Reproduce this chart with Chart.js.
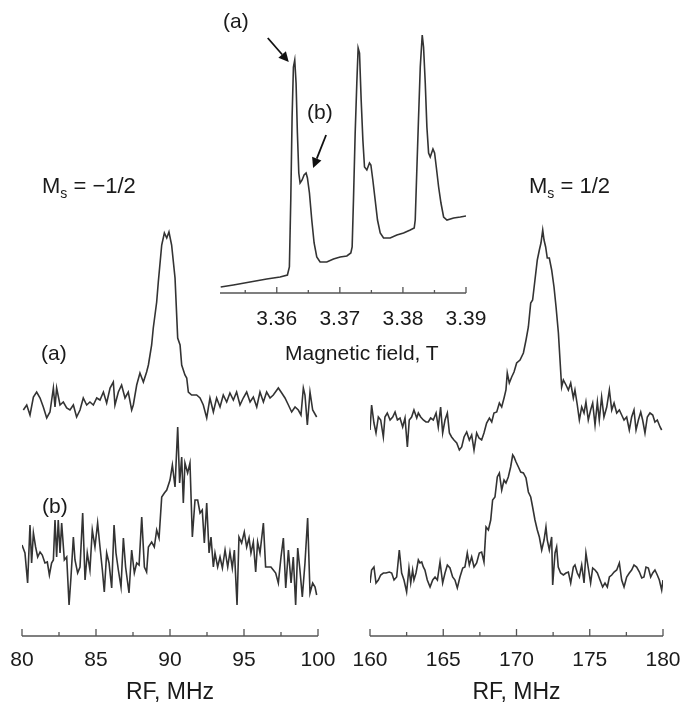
<!DOCTYPE html>
<html>
<head>
<meta charset="utf-8">
<script src="https://cdn.jsdelivr.net/npm/chart.js@4.4.1/dist/chart.umd.min.js"></script>
<style>
  html, body { margin: 0; padding: 0; background: #fff; }
  #page { position: relative; width: 684px; height: 711px; overflow: hidden; }
  canvas { position: absolute; }
  .t { position: absolute; font: 21px "Liberation Sans", Arial, sans-serif; line-height: 25px; color: #1a1a1a; white-space: nowrap; }
  .ms { font-size: 22px; }
  .t sub { font-size: 14px; vertical-align: -5px; line-height: 0; }
</style>
</head>
<body>
<div id="page">
  <canvas id="leftChart" style="left:-10px;top:200px;width:360px;height:511px" width="360" height="511"></canvas>
  <canvas id="rightChart" style="left:340px;top:200px;width:354px;height:511px" width="354" height="511"></canvas>
  <canvas id="eprChart" style="left:190px;top:0;width:312px;height:370px" width="312" height="370"></canvas>

  <div class="t ms" style="left:42px;top:173px">M<sub>s</sub> = −1/2</div>
  <div class="t ms" style="left:529px;top:173px">M<sub>s</sub> = 1/2</div>
  <div class="t" style="left:41px;top:340px">(a)</div>
  <div class="t" style="left:42px;top:493px">(b)</div>
  <div class="t" style="left:223px;top:8px">(a)</div>
  <div class="t" style="left:307px;top:99px">(b)</div>
  <div class="t" style="left:285px;top:340px">Magnetic field, T</div>
</div>

<script>
// EPR spectrum (inset)
const fieldT = [3.35111,3.35312,3.35576,3.35841,3.36052,3.36169,3.36200,3.36222,3.36243,3.36264,
  3.36285,3.36306,3.36327,3.36349,3.36370,3.36402,3.36433,3.36465,3.36486,3.36518,
  3.36555,3.36592,3.36634,3.36687,3.36793,3.36899,3.37005,3.37111,3.37174,3.37195,
  3.37216,3.37243,3.37269,3.37290,3.37312,3.37338,3.37365,3.37391,3.37428,3.37470,
  3.37492,3.37523,3.37560,3.37597,3.37640,3.37693,3.37798,3.37904,3.38010,3.38116,
  3.38179,3.38195,3.38222,3.38248,3.38275,3.38306,3.38327,3.38354,3.38380,3.38407,
  3.38433,3.38476,3.38502,3.38529,3.38566,3.38603,3.38645,3.38698,3.38804,3.38910,3.39000];
const eprSig = [6,8,11,14,16,18,26,93,176,226,
  233,210,160,120,110,113,118,120,115,100,
  73,50,36,31,31,34,36,37,40,46,
  93,160,210,245,240,193,153,126,123,130,
  128,113,93,73,60,55,55,58,60,63,
  65,73,126,176,226,258,246,210,166,140,
  136,144,140,126,106,90,76,73,75,76,77];
const fieldTicks = [3.36, 3.37, 3.38, 3.39];
const fieldMinor = [3.355, 3.365, 3.375, 3.385];

// ENDOR, Ms = -1/2
const leftFreqA = [80.09,80.32,80.54,80.77,80.99,81.22,81.44,81.67,81.89,82.12,
  82.23,82.34,82.57,82.79,83.02,83.24,83.47,83.69,83.92,84.14,
  84.37,84.59,84.82,85.05,85.27,85.50,85.72,85.95,86.17,86.28,
  86.51,86.73,86.96,87.18,87.41,87.52,87.75,87.97,88.20,88.42,
  88.54,88.76,88.87,89.10,89.21,89.44,89.62,89.78,89.93,90.11,
  90.34,90.52,90.68,90.79,91.01,91.13,91.24,91.46,91.80,92.03,
  92.25,92.48,92.70,92.93,93.15,93.38,93.60,93.83,94.05,94.28,
  94.50,94.73,94.95,95.18,95.41,95.63,95.86,96.08,96.31,96.53,
  96.76,96.98,97.32,97.55,97.77,98.00,98.22,98.45,98.67,98.85,
  99.01,99.12,99.28,99.46,99.64,99.91];
const leftSigA = [0,5,-5,13,18,12,3,-8,-2,22,
  3,22,5,8,2,0,5,-7,0,12,
  5,8,5,12,10,18,7,22,28,5,
  18,25,12,18,0,5,25,37,28,38,
  45,65,82,108,128,165,177,172,178,165,
  132,72,65,45,35,32,18,15,15,12,
  5,-8,12,-2,12,3,15,8,17,10,
  18,5,12,18,8,13,3,18,8,18,
  12,15,22,17,12,5,-2,3,0,-5,
  22,15,-15,18,0,-7];
const leftFreqB = [80.00,80.20,80.38,80.54,80.65,80.77,80.92,81.06,81.22,81.37,
  81.55,81.71,81.85,82.00,82.12,82.23,82.34,82.45,82.57,82.68,
  82.86,83.02,83.18,83.31,83.47,83.58,83.76,83.92,84.10,84.26,
  84.41,84.59,84.75,84.93,85.11,85.27,85.43,85.56,85.72,85.88,
  86.06,86.22,86.35,86.51,86.69,86.85,87.00,87.23,87.41,87.59,
  87.75,87.91,88.09,88.27,88.42,88.54,88.76,88.94,89.10,89.26,
  89.44,89.62,89.78,90.00,90.16,90.34,90.52,90.65,90.79,90.90,
  91.01,91.19,91.35,91.51,91.69,91.87,92.03,92.18,92.32,92.48,
  92.64,92.77,92.93,93.04,93.22,93.38,93.54,93.72,93.90,94.05,
  94.21,94.35,94.53,94.66,94.84,95.02,95.18,95.34,95.47,95.63,
  95.79,95.92,96.08,96.31,96.46,96.64,96.82,96.98,97.14,97.32,
  97.50,97.66,97.82,98.00,98.18,98.33,98.49,98.63,98.78,98.94,
  99.12,99.30,99.46,99.64,99.80,99.91];
const leftSigB = [20,12,-18,40,2,32,18,8,13,10,
  2,3,-10,2,5,45,8,45,12,42,
  5,8,-40,-12,28,5,-8,-2,52,-15,
  12,-5,35,18,42,18,-5,-27,12,2,
  -23,40,12,-5,-22,27,-2,-28,15,-8,
  2,0,48,-2,-7,18,23,18,35,27,
  68,72,75,85,100,78,138,82,108,62,
  102,92,102,28,65,65,52,55,22,62,
  12,28,-2,12,-2,8,-3,15,-2,13,
  -3,15,-40,28,22,33,18,27,12,23,
  -7,23,12,42,-2,-2,-2,-5,-8,-18,
  8,27,-23,15,-18,8,-40,17,-5,-32,
  2,47,-28,-18,-22,-30];
const leftTicks = [80, 85, 90, 95, 100];
const leftMinor = [82.5, 87.5, 92.5, 97.5];

// ENDOR, Ms = 1/2
const rightFreqA = [160.00,160.11,160.27,160.41,160.57,160.73,160.91,161.02,161.18,161.37,
  161.55,161.71,161.87,162.05,162.23,162.39,162.55,162.68,162.84,163.00,
  163.19,163.30,163.46,163.64,163.82,163.98,164.14,164.32,164.51,164.66,
  164.82,164.96,165.12,165.28,165.42,165.57,165.73,165.92,166.10,166.26,
  166.42,166.60,166.78,166.94,167.10,167.28,167.44,167.62,167.78,167.96,
  168.15,168.31,168.46,168.65,168.83,168.99,169.15,169.28,169.37,169.51,
  169.67,169.83,170.01,170.24,170.47,170.65,170.81,170.97,171.10,171.26,
  171.42,171.56,171.67,171.79,171.88,171.99,172.10,172.24,172.40,172.56,
  172.70,172.86,172.97,173.08,173.20,173.38,173.54,173.70,173.88,173.99,
  174.15,174.29,174.45,174.61,174.74,174.90,175.06,175.20,175.36,175.52,
  175.65,175.81,175.97,176.16,176.34,176.50,176.66,176.84,177.02,177.18,
  177.34,177.52,177.70,177.86,178.02,178.16,178.32,178.48,178.61,178.77,
  178.93,179.11,179.30,179.45,179.61,179.80,179.91];
const rightSigA = [0,25,7,-3,13,10,-7,13,17,10,
  13,18,10,12,3,12,-17,10,13,20,
  12,17,13,10,8,8,12,10,17,3,
  23,-3,10,17,-3,-7,-10,-13,-20,-17,
  -7,-2,-10,-5,-20,-3,-8,-10,-3,7,
  12,8,17,18,27,23,32,40,57,47,
  53,58,67,70,77,90,103,127,130,150,
  170,180,187,200,190,183,172,172,160,143,
  123,97,70,43,50,45,40,47,32,40,
  25,10,23,17,28,10,20,27,5,28,
  10,33,13,23,40,20,27,17,20,15,
  10,13,0,13,20,0,10,18,10,-3,
  13,17,15,8,10,3,0];
const rightFreqB = [160.00,160.11,160.27,160.41,160.57,160.73,160.91,161.09,161.32,161.48,
  161.64,161.82,162.00,162.16,162.32,162.50,162.66,162.78,162.91,163.00,
  163.14,163.30,163.41,163.53,163.64,163.75,163.91,164.10,164.28,164.44,
  164.60,164.78,164.96,165.12,165.28,165.46,165.64,165.80,165.96,166.14,
  166.33,166.48,166.64,166.78,166.94,167.10,167.28,167.46,167.62,167.78,
  167.92,168.08,168.24,168.37,168.53,168.69,168.83,168.99,169.15,169.28,
  169.44,169.60,169.74,169.83,169.97,170.13,170.29,170.47,170.65,170.81,
  170.97,171.10,171.26,171.42,171.56,171.72,171.88,172.01,172.10,172.24,
  172.40,172.47,172.63,172.74,172.85,173.01,173.20,173.38,173.54,173.70,
  173.88,173.99,174.15,174.29,174.45,174.61,174.74,174.90,175.06,175.20,
  175.36,175.52,175.70,175.88,176.04,176.20,176.34,176.50,176.66,176.84,
  177.02,177.18,177.34,177.52,177.70,177.86,178.02,178.20,178.39,178.55,
  178.70,178.84,179.00,179.16,179.30,179.45,179.61,179.75,179.91,180.00];
const rightSigB = [-3,10,13,-3,0,5,7,7,8,7,
  0,3,30,7,0,-12,12,-3,10,0,
  7,20,17,18,13,10,0,-7,0,3,
  0,18,-3,7,15,12,3,0,-8,3,
  12,13,27,15,23,13,17,27,28,18,
  53,50,60,80,83,103,107,90,100,97,
  103,113,125,123,118,113,108,107,102,88,
  83,73,60,50,43,30,40,53,40,30,
  43,-5,27,33,13,7,5,7,8,-3,
  13,15,7,3,15,-3,27,12,-3,12,
  10,7,0,-7,-3,-7,3,5,8,10,
  17,0,-7,3,7,10,15,13,8,2,
  3,13,12,3,7,10,5,0,-10,0];
const rightTicks = [160, 165, 170, 175, 180];
const rightMinor = [162.5, 167.5, 172.5, 177.5];

const TEXT = '#1a1a1a';
const LINE = '#333';
const AXIS = '#555';
Chart.defaults.font.family = '"Liberation Sans", Arial, sans-serif';
Chart.defaults.font.size = 21;
Chart.defaults.color = TEXT;

function pts(xs, ys, offset) {
    return xs.map((x, i) => ({ x: x, y: ys[i] + offset }));
}

function trace(data) {
    return { data, borderColor: LINE, borderWidth: 1.6, pointRadius: 0, tension: 0, fill: false };
}

// axis line with ticks pointing up into the plot
const inwardAxis = {
    id: 'inwardAxis',
    afterDraw(chart, args, opts) {
        const sx = chart.scales.x;
        const y0 = chart.chartArea.bottom;
        const ctx = chart.ctx;
        ctx.save();
        ctx.strokeStyle = AXIS;
        ctx.lineWidth = 1.3;
        ctx.beginPath();
        ctx.moveTo(sx.left, y0);
        ctx.lineTo(sx.right, y0);
        opts.major.forEach(v => {
            const px = sx.getPixelForValue(v);
            ctx.moveTo(px, y0);
            ctx.lineTo(px, y0 - opts.majorLen);
        });
        opts.minor.forEach(v => {
            const px = sx.getPixelForValue(v);
            ctx.moveTo(px, y0);
            ctx.lineTo(px, y0 - opts.minorLen);
        });
        ctx.stroke();
        ctx.restore();
    }
};

// arrows pointing at peaks of the EPR line
const peakArrows = {
    id: 'peakArrows',
    afterDatasetsDraw(chart, args, opts) {
        const meta = chart.getDatasetMeta(0);
        const ctx = chart.ctx;
        ctx.save();
        ctx.strokeStyle = '#111';
        ctx.fillStyle = '#111';
        ctx.lineWidth = 1.8;
        opts.arrows.forEach(a => {
            const p = meta.data[a.index];
            const x1 = p.x + a.hx, y1 = p.y + a.hy;
            const x0 = p.x + a.tx, y0 = p.y + a.ty;
            const ang = Math.atan2(y1 - y0, x1 - x0);
            const len = 10, w = 5;
            const bx = x1 - len * Math.cos(ang), by = y1 - len * Math.sin(ang);
            ctx.beginPath();
            ctx.moveTo(x0, y0);
            ctx.lineTo(bx, by);
            ctx.stroke();
            ctx.beginPath();
            ctx.moveTo(x1, y1);
            ctx.lineTo(bx + w * Math.sin(ang), by - w * Math.cos(ang));
            ctx.lineTo(bx - w * Math.sin(ang), by + w * Math.cos(ang));
            ctx.closePath();
            ctx.fill();
        });
        ctx.restore();
    }
};

function xAxis(min, max, ticks, title, labelPad, fmt) {
    const axis = {
        type: 'linear', min, max,
        afterBuildTicks: a => { a.ticks = ticks.map(v => ({ value: v })); },
        grid: { display: false, drawTicks: false },
        border: { display: false },
        ticks: { padding: labelPad, autoSkip: false, maxRotation: 0, callback: fmt },
        title: { display: false }
    };
    if (title) {
        axis.title = { display: true, text: title, font: { size: 23 }, padding: { top: -6, bottom: 0 } };
    }
    return axis;
}

function endorChart(id, freqA, sigA, offA, freqB, sigB, offB, ticks, minor, pad) {
    new Chart(document.getElementById(id), {
        type: 'line',
        data: { datasets: [trace(pts(freqA, sigA, offA)), trace(pts(freqB, sigB, offB))] },
        options: {
            responsive: false, animation: false,
            layout: { padding: pad },
            plugins: { legend: { display: false }, tooltip: { enabled: false },
                inwardAxis: { major: ticks, minor: minor, majorLen: 7, minorLen: 4 } },
            scales: {
                x: xAxis(ticks[0], ticks[ticks.length - 1], ticks, 'RF, MHz', 12, v => String(v)),
                y: { display: false, min: 0, max: 416 }
            }
        },
        plugins: [inwardAxis]
    });
}

endorChart('leftChart', leftFreqA, leftSigA, 226, leftFreqB, leftSigB, 71,
    leftTicks, leftMinor, { left: 32, right: 32, top: 20, bottom: 4.2 });
endorChart('rightChart', rightFreqA, rightSigA, 206, rightFreqB, rightSigB, 56,
    rightTicks, rightMinor, { left: 30, right: 31, top: 20, bottom: 4.2 });

new Chart(document.getElementById('eprChart'), {
    type: 'line',
    data: { datasets: [trace(pts(fieldT, eprSig, 0))] },
    options: {
        responsive: false, animation: false,
        layout: { padding: { left: 30, right: 36, top: 20, bottom: 23.8 } },
        plugins: { legend: { display: false }, tooltip: { enabled: false },
            inwardAxis: { major: fieldTicks, minor: fieldMinor, majorLen: 6, minorLen: 3 },
            peakArrows: { arrows: [
                { index: 10, hx: -6, hy: 2, tx: -27, ty: -22 },
                { index: 17, hx: 7, hy: -5, tx: 20, ty: -38 }
            ] } },
        scales: {
            x: xAxis(3.351, 3.39, fieldTicks, null, 14, v => v.toFixed(2)),
            y: { display: false, min: 0, max: 273 }
        }
    },
    plugins: [inwardAxis, peakArrows]
});
</script>
</body>
</html>
